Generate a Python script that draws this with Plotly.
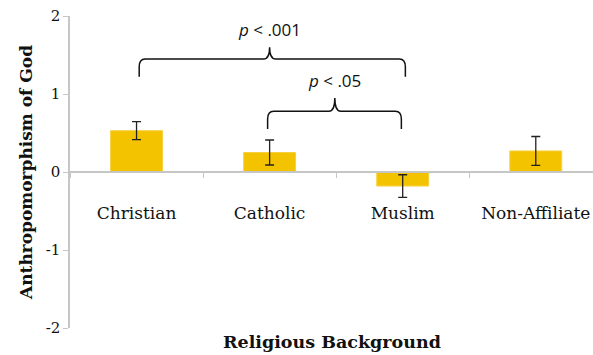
import plotly.graph_objects as go

# Mean anthropomorphism score by religious background, with standard errors
categories = ["Christian", "Catholic", "Muslim", "Non-Affiliate"]
means = [0.53, 0.25, -0.18, 0.27]
errors = [0.115, 0.16, 0.145, 0.185]

y_ticks = [-2, -1, 0, 1, 2]
y_tick_labels = ["-2", "-1", "0", "1", "2"]

# Significance brackets: (left index, right index, label, foot y, bar y, tip y, tip x)
brackets = [
    (0.02, 2.02, "<i>p</i> < .001", 1.22, 1.45, 1.60, 1.0),
    (0.985, 1.99, "<i>p</i> < .05", 0.55, 0.78, 0.95, 1.49),
]

BAR_COLOR = "#F4C300"
AXIS_GRAY = "#c6c6c6"
SERIF = "DejaVu Serif"

fig = go.Figure()
fig.add_trace(go.Bar(
    x=categories,
    y=means,
    width=0.39,
    marker=dict(color=BAR_COLOR, line=dict(color="#F7D040", width=1)),
    error_y=dict(type="data", array=errors, color="#222222", thickness=1.3, width=4.5),
))


def brace_path(x0, x1, yb, yt, ys, xm, dx=0.045, ry=0.1):
    return (
        f"M {x0},{yb} L {x0},{yt - ry} Q {x0},{yt} {x0 + dx},{yt} "
        f"L {xm - dx},{yt} Q {xm},{yt} {xm},{ys} "
        f"Q {xm},{yt} {xm + dx},{yt} L {x1 - dx},{yt} "
        f"Q {x1},{yt} {x1},{yt - ry} L {x1},{yb}"
    )


for x0, x1, label, yb, yt, ys, xm in brackets:
    fig.add_shape(
        type="path",
        path=brace_path(x0, x1, yb, yt, ys, xm),
        xref="x", yref="y",
        line=dict(color="#111111", width=1.5),
    )
    fig.add_annotation(
        x=xm, y=ys + 0.05, xref="x", yref="y",
        text=label, showarrow=False, yanchor="bottom",
        font=dict(family="Open Sans", size=17, color="#111111"),
    )

fig.add_annotation(
    x=0.5, y=-0.005, xref="paper", yref="paper", yanchor="top",
    text="<b>Religious Background</b>", showarrow=False,
    font=dict(family=SERIF, size=17.5, color="#111111"),
)

fig.update_layout(
    width=593, height=355,
    margin=dict(l=70, r=0, t=16, b=27),
    paper_bgcolor="white", plot_bgcolor="white",
    showlegend=False,
    xaxis=dict(
        type="category",
        range=[-0.5, 3.43],
        anchor="free", position=0.5,
        showline=True, linecolor=AXIS_GRAY, linewidth=2,
        ticks="outside", tickson="boundaries", ticklen=5,
        tickcolor=AXIS_GRAY, tickwidth=1,
        ticklabelstandoff=26,
        tickfont=dict(family=SERIF, size=17, color="#111111"),
        showgrid=False, zeroline=False,
    ),
    yaxis=dict(
        range=[-2, 2],
        tickvals=y_ticks,
        ticktext=y_tick_labels,
        showline=True, linecolor=AXIS_GRAY, linewidth=1.5,
        ticks="outside", ticklen=5, tickcolor=AXIS_GRAY,
        tickfont=dict(family=SERIF, size=15, color="#111111"),
        showgrid=False, zeroline=False,
        title=dict(text="<b>Anthropomorphism of God</b>", standoff=9,
                   font=dict(family=SERIF, size=17, color="#111111")),
    ),
)

fig.write_html("out.html")
